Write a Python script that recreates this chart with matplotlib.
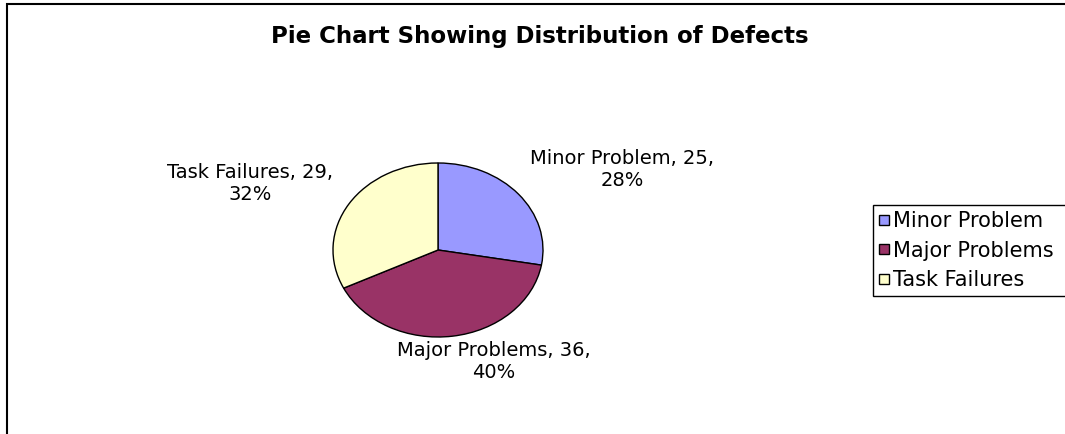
import matplotlib
matplotlib.use("Agg")
import matplotlib.pyplot as plt
from matplotlib.patches import Rectangle

# Defect counts by category
categories = ["Minor Problem", "Major Problems", "Task Failures"]
counts = [25, 36, 29]
colors = ["#9999FF", "#993366", "#FFFFCC"]
title = "Pie Chart Showing Distribution of Defects"

W, H = 1065, 434
fig = plt.figure(figsize=(W / 100, H / 100), dpi=100)
fig.patch.set_facecolor("white")


def fx(px):
    return px / W


def fy(py):
    return 1 - py / H


# Chart-area border (top and left visible, rest runs off the canvas)
fig.add_artist(Rectangle((fx(7), -0.2), 1.3, fy(4) + 0.2,
                         transform=fig.transFigure, fill=False,
                         edgecolor="black", linewidth=1.5))

fig.text(fx(539.5), fy(43), title, ha="center", va="baseline",
         fontsize=16.5, fontweight="bold", color="black")

# Slightly flattened pie, as in the spreadsheet rendering
ax = fig.add_axes([fx(333), fy(337), fx(210), 174 / H])
wedges, _ = ax.pie(counts, colors=colors, startangle=90, counterclock=False,
                   radius=1.0,
                   wedgeprops=dict(edgecolor="black", linewidth=1.0))
ax.set_aspect("auto")
ax.set_xlim(-1, 1)
ax.set_ylim(-1, 1)
ax.axis("off")

# Data labels: "name, value,\npercent%"
total = sum(counts)
label_pos = [(622, 169), (494, 362), (250, 183)]
for name, v, (lx, ly) in zip(categories, counts, label_pos):
    pct = v / total * 100
    fig.text(fx(lx), fy(ly), f"{name}, {v},\n{pct:.0f}%", ha="center",
             va="center", fontsize=14, color="black", linespacing=1.2)

# Legend box runs past the right edge of the canvas
handles = [Rectangle((0, 0), 1, 1, facecolor=c, edgecolor="black",
                     linewidth=1.0) for c in colors]
leg = fig.legend(handles, categories, loc="upper left", mode="expand",
                 bbox_to_anchor=(fx(873), fy(292), 0.2, fy(205) - fy(292)),
                 borderaxespad=0,
                 fontsize=15, handlelength=0.45, handleheight=0.36,
                 handletextpad=0.2, labelspacing=0.45, borderpad=0.3,
                 fancybox=False, framealpha=1, edgecolor="black")
leg.get_frame().set_linewidth(1.0)

fig.savefig("out.png", dpi=100, facecolor="white")
